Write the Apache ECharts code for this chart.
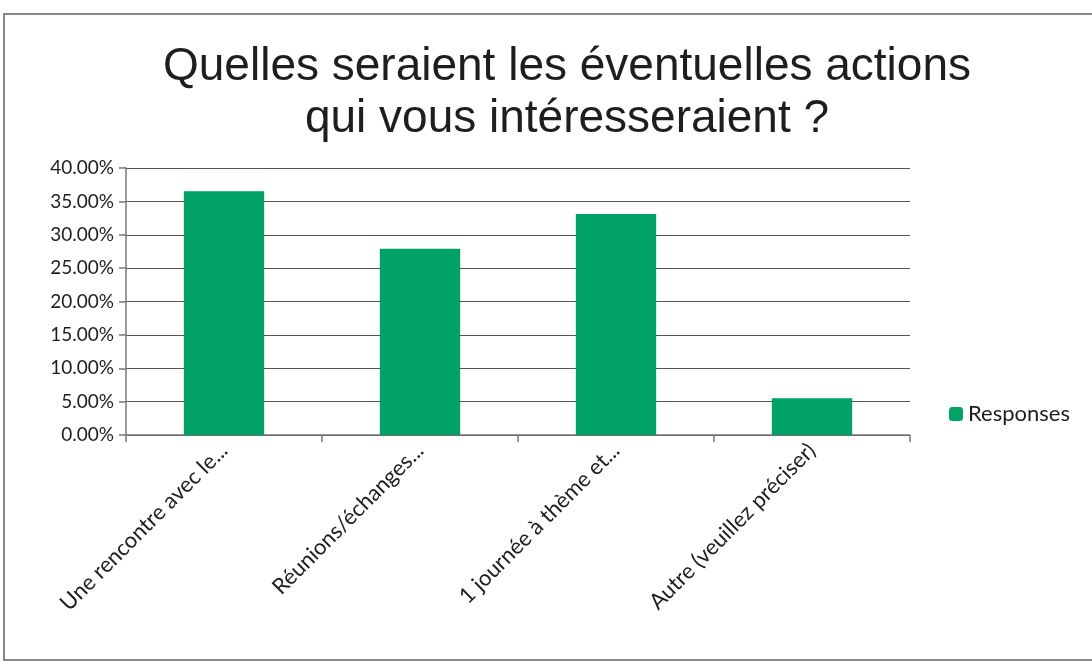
<!DOCTYPE html>
<html>
<head>
<meta charset="utf-8">
<script src="https://cdn.jsdelivr.net/npm/echarts@6/dist/echarts.min.js"></script>
<style>
  html, body { margin: 0; padding: 0; background: #fff; }
  #chart { width: 1092px; height: 665px; }
</style>
</head>
<body>
<div id="chart"></div>
<script>
const categories = ['Une rencontre avec le...', 'Réunions/échanges...', '1 journée à thème et...', 'Autre (veuillez préciser)'];
const responses = [36.5, 27.9, 33.1, 5.5];
const yTicks = [0, 5, 10, 15, 20, 25, 30, 35, 40];

const chartDom = document.getElementById('chart');
const chart = echarts.init(chartDom);

const labelFont = 'Lato, "Open Sans", sans-serif';

let option = {
    backgroundColor: '#fff',
    animation: false,
    title: {
        text: 'Quelles seraient les éventuelles actions\nqui vous intéresseraient ?',
        left: 562,
        top: 36,
        textAlign: 'center',
        textStyle: {
            fontFamily: 'Arial, "Liberation Sans", sans-serif',
            fontSize: 46,
            fontWeight: 'normal',
            color: '#1e1e1e',
            lineHeight: 52
        }
    },
    legend: {
        data: ['Responses'],
        left: 944,
        top: 398,
        itemWidth: 14,
        itemHeight: 14,
        itemGap: 7,
        textStyle: {
            fontFamily: labelFont,
            fontSize: 22,
            color: '#1e1e1e'
        }
    },
    grid: {
        left: 126,
        right: 182,
        top: 168,
        bottom: 230,
        containLabel: false
    },
    xAxis: {
        type: 'category',
        data: categories,
        axisLine: { lineStyle: { color: '#777', width: 1.5 } },
        axisTick: { show: true, length: 7, lineStyle: { color: '#777', width: 1.5 } },
        axisLabel: {
            rotate: 45,
            interval: 0,
            margin: 12,
            fontFamily: labelFont,
            fontSize: 22,
            color: '#1e1e1e'
        }
    },
    yAxis: {
        type: 'value',
        min: yTicks[0],
        max: yTicks[yTicks.length - 1],
        interval: yTicks[1] - yTicks[0],
        axisLine: { show: true, lineStyle: { color: '#777', width: 1.5 } },
        axisTick: { show: true, length: 7, lineStyle: { color: '#777', width: 1.5 } },
        splitLine: { lineStyle: { color: '#555', width: 1.2 } },
        axisLabel: {
            margin: 12,
            fontFamily: labelFont,
            fontSize: 19,
            color: '#1e1e1e',
            formatter: function (v) { return v.toFixed(2) + '%'; }
        }
    },
    series: [{
        name: 'Responses',
        type: 'bar',
        data: responses,
        barWidth: '41%',
        itemStyle: { color: '#00a265' }
    }],
    graphic: [{
        type: 'rect',
        shape: { x: 4, y: 14, width: 1100, height: 646 },
        style: { fill: 'none', stroke: '#888', lineWidth: 2 },
        silent: true
    }]
};

if (option && typeof option === 'object') {
    chart.setOption(option);
}
</script>
</body>
</html>
